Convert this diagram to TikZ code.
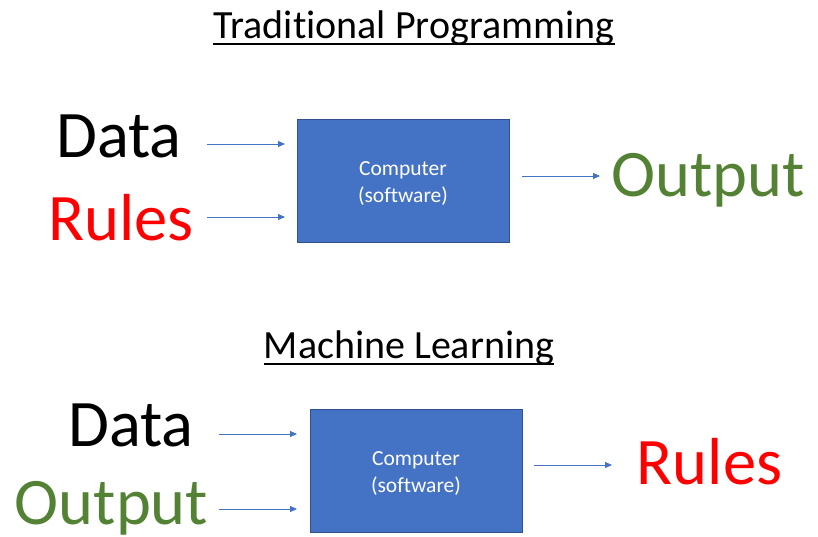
\documentclass[tikz,border=0pt]{standalone}
\usepackage{fontspec}
\setmainfont[Ligatures=NoCommon]{Carlito}
\usetikzlibrary{arrows.meta,calc}
\definecolor{boxblue}{HTML}{4472C4}
\definecolor{boxedge}{HTML}{2F528F}
\definecolor{outgreen}{HTML}{548235}
\definecolor{rulered}{HTML}{FF0000}
\tikzset{
  compbox/.style={draw=boxedge,line width=0.8pt,fill=boxblue,minimum width=212pt,minimum height=123pt,inner sep=0pt},
  boxtext/.style={inner sep=0pt,text=white,font=\fontsize{21.5}{27}\selectfont,align=center},
  bigword/.style={anchor=base,inner sep=0pt,font=\fontsize{66.5}{72}\selectfont},
  title/.style={anchor=base,inner sep=0pt,font=\fontsize{40}{44}\selectfont},
  flow/.style={draw=boxblue,line width=0.9pt,-{Triangle[length=7pt,width=6pt]}}
}
\begin{document}
\begin{tikzpicture}[x=1pt,y=-1pt]
\useasboundingbox (0,0) rectangle (818,536);
% Traditional programming
\node[title] (t1) at (414,38) {Tradit\kern0pt ional Programming};
\draw[line width=2pt] ($(t1.base west)+(0,6)$) coordinate (u1a) -- ($(t1.base east)+(0,6)$) coordinate (u1b);
\node[compbox] (c1) at (403,180.5) {};
\node[boxtext] (c1t) at ($(c1.center)+(0,3)$) {Computer\\(software)};
\node[bigword] (d1) at (119,157) {Data};
\node[bigword,text=rulered] (r1) at (121,240) {Rules};
\node[bigword,text=outgreen] (o1) at (708,196) {Output};
\coordinate (a1s) at (207,144); \coordinate (a1e) at (285,144);
\coordinate (a2s) at (207,217); \coordinate (a2e) at (285,217);
\coordinate (a3s) at (522,176); \coordinate (a3e) at (600,176);
\draw[flow] (a1s) -- (a1e);
\draw[flow] (a2s) -- (a2e);
\draw[flow] (a3s) -- (a3e);
% Machine learning
\node[title] (t2) at (409,358) {Machine Learning};
\draw[line width=2pt] ($(t2.base west)+(0,6)$) coordinate (u2a) -- ($(t2.base east)+(0,6)$) coordinate (u2b);
\node[compbox] (c2) at (416,470.5) {};
\node[boxtext] (c2t) at ($(c2.center)+(0,3)$) {Computer\\(software)};
\node[bigword] (d2) at (131,446) {Data};
\node[bigword,text=outgreen] (o2) at (111.5,524) {Output};
\node[bigword,text=rulered] (r2) at (709.5,484) {Rules};
\coordinate (b1s) at (219,434); \coordinate (b1e) at (297,434);
\coordinate (b2s) at (219,509); \coordinate (b2e) at (297,509);
\coordinate (b3s) at (534,465); \coordinate (b3e) at (612,465);
\draw[flow] (b1s) -- (b1e);
\draw[flow] (b2s) -- (b2e);
\draw[flow] (b3s) -- (b3e);
\end{tikzpicture}
\end{document}
